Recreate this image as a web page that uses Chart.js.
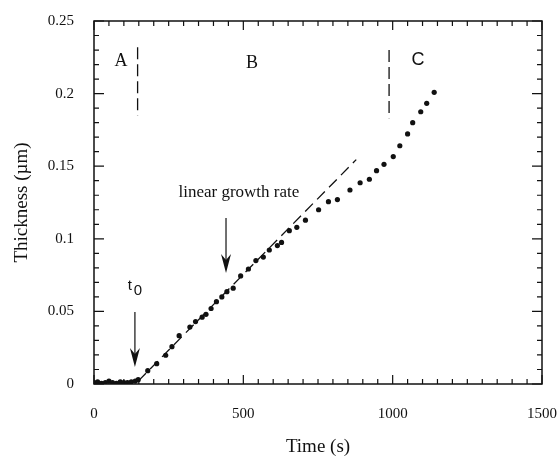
<!DOCTYPE html>
<html lang="en">
<head>
    <meta charset="UTF-8">
    <title>Thickness vs time</title>
    <script src="https://cdn.jsdelivr.net/npm/chart.js"></script>
    <style>
        body { margin: 0; background: #fff; }
        #wrap { width: 559px; height: 459px; }
    </style>
</head>
<body>
    <div id="wrap"><canvas id="growthChart" width="559" height="459"></canvas></div>

    <script>
        // measured film thickness (um) against time (s)
        const timeS = [0, 12, 25, 38, 50, 62, 75, 88, 100, 112, 125, 138,
            148, 180, 210, 240, 261, 285, 321, 340, 362, 375, 392, 410, 428, 445,
            466, 491, 517, 542, 567, 587, 614, 628, 654, 679, 708, 752, 785, 815,
            857, 891, 922, 946, 971, 1002, 1024, 1050, 1067, 1094, 1114, 1139];
        const thicknessUm = [0.001, 0.0015, 0.0005, 0.001, 0.002, 0.001, 0.0005, 0.0015, 0.001, 0.001, 0.0015, 0.002,
            0.003, 0.0092, 0.014, 0.0198, 0.0257, 0.0333, 0.0392, 0.043, 0.046, 0.048, 0.052, 0.0567, 0.06, 0.0636,
            0.066, 0.0744, 0.0792, 0.085, 0.0874, 0.0923, 0.0953, 0.0975, 0.1056, 0.1079, 0.1128, 0.12, 0.1256, 0.127,
            0.1336, 0.1386, 0.141, 0.1469, 0.1513, 0.1566, 0.1641, 0.1722, 0.18, 0.1875, 0.1933, 0.2009];

        // fitted linear growth line (start, end)
        const fitTime = [148, 878];
        const fitThickness = [0.002, 0.1545];

        // boundaries between regimes A / B / C
        const boundaryTimes = [146, 988];
        const boundaryTop = [0.232, 0.230];
        const boundaryBottom = [0.185, 0.183];

        const xTicks = [0, 500, 1000, 1500];
        const yTicks = [0, 0.05, 0.1, 0.15, 0.2, 0.25];

        const serif = '"Liberation Serif", "Times New Roman", serif';
        const sans = '"Liberation Sans", Arial, sans-serif';
        const ink = '#111';

        const toXY = (xs, ys) => xs.map((x, i) => ({ x: x, y: ys[i] }));

        const datasets = [
            {
                label: 'linear fit',
                data: toXY(fitTime, fitThickness),
                showLine: true,
                borderColor: ink,
                borderWidth: 1.3,
                borderDash: [11, 6],
                pointRadius: 0
            }
        ];
        boundaryTimes.forEach((t, i) => {
            datasets.push({
                label: 'boundary ' + i,
                data: [{ x: t, y: boundaryTop[i] }, { x: t, y: boundaryBottom[i] }],
                showLine: true,
                borderColor: ink,
                borderWidth: 1.3,
                borderDash: [12, 5],
                pointRadius: 0
            });
        });
        datasets.push({
            label: 'thickness',
            data: toXY(timeS, thicknessUm),
            pointRadius: 2.6,
            pointBackgroundColor: ink,
            pointBorderWidth: 0,
            showLine: false
        });

        // frame with inward ticks on all four sides
        const framePlugin = {
            id: 'frame',
            afterDraw(chart) {
                const { ctx, chartArea: a, scales } = chart;
                ctx.save();
                ctx.strokeStyle = ink;
                ctx.lineWidth = 1.5;
                ctx.strokeRect(a.left, a.top, a.right - a.left, a.bottom - a.top);
                ctx.lineWidth = 1.2;
                ctx.beginPath();
                for (let t = 0; t <= 1500; t += 50) {
                    const px = scales.x.getPixelForValue(t);
                    const len = t % 500 === 0 ? 9 : 5;
                    ctx.moveTo(px, a.bottom); ctx.lineTo(px, a.bottom - len);
                    ctx.moveTo(px, a.top); ctx.lineTo(px, a.top + len);
                }
                for (let k = 0; k <= 25; k++) {
                    const py = scales.y.getPixelForValue(k / 100);
                    const len = k % 5 === 0 ? 10 : 5;
                    ctx.moveTo(a.left, py); ctx.lineTo(a.left + len, py);
                    ctx.moveTo(a.right, py); ctx.lineTo(a.right - len, py);
                }
                ctx.stroke();
                ctx.restore();
            }
        };

        function arrow(ctx, x, y0, y1) {
            ctx.beginPath();
            ctx.moveTo(x, y0);
            ctx.lineTo(x, y1 - 12);
            ctx.stroke();
            ctx.beginPath();
            ctx.moveTo(x, y1);
            ctx.lineTo(x - 5, y1 - 19);
            ctx.lineTo(x, y1 - 13);
            ctx.lineTo(x + 5, y1 - 19);
            ctx.closePath();
            ctx.fill();
        }

        // region letters, t0 marker and growth-rate note
        const notesPlugin = {
            id: 'notes',
            afterDraw(chart) {
                const { ctx, scales } = chart;
                const X = v => scales.x.getPixelForValue(v);
                const Y = v => scales.y.getPixelForValue(v);
                ctx.save();
                ctx.fillStyle = ink;
                ctx.strokeStyle = ink;
                ctx.textAlign = 'center';
                ctx.textBaseline = 'middle';

                ctx.font = '18px ' + serif;
                ctx.fillText('A', X(90), Y(0.2225));
                ctx.fillText('B', X(529), Y(0.221));
                ctx.font = '18px ' + sans;
                ctx.fillText('C', X(1085), Y(0.2231));

                ctx.font = '17px ' + serif;
                ctx.fillText('linear growth rate', X(485), Y(0.1322));

                ctx.font = '15px ' + sans;
                ctx.fillText('t', X(120), Y(0.0675));
                ctx.fillText('0', X(147), Y(0.064));

                ctx.lineWidth = 1.2;
                arrow(ctx, X(137), Y(0.0496), Y(0.0117));
                arrow(ctx, X(442), Y(0.1143), Y(0.0764));
                ctx.restore();
            }
        };

        const chart = new Chart(document.getElementById('growthChart'), {
            type: 'scatter',
            data: { datasets: datasets },
            options: {
                responsive: false,
                animation: false,
                layout: { padding: { left: 0, top: 21, right: 17, bottom: 0 } },
                plugins: {
                    legend: { display: false },
                    tooltip: { enabled: false }
                },
                scales: {
                    x: {
                        type: 'linear',
                        min: 0,
                        max: 1500,
                        afterBuildTicks: s => { s.ticks = xTicks.map(v => ({ value: v })); },
                        afterFit: s => {
                            s.height = 75;
                            s.paddingLeft = 0;
                            s.paddingRight = 0;
                        },
                        grid: { display: false, drawTicks: false },
                        border: { display: false },
                        ticks: {
                            padding: 21,
                            color: ink,
                            font: { family: serif, size: 15 },
                            maxRotation: 0,
                            callback: v => String(v)
                        },
                        title: {
                            display: true,
                            text: 'Time (s)',
                            color: ink,
                            font: { family: serif, size: 19 },
                            padding: { top: 4, bottom: 1 }
                        }
                    },
                    y: {
                        type: 'linear',
                        min: 0,
                        max: 0.25,
                        afterBuildTicks: s => { s.ticks = yTicks.map(v => ({ value: v })); },
                        afterFit: s => {
                            s.width = 94;
                            s.paddingTop = 0;
                            s.paddingBottom = 0;
                        },
                        grid: { display: false, drawTicks: false },
                        border: { display: false },
                        ticks: {
                            padding: 20,
                            color: ink,
                            font: { family: serif, size: 15 },
                            callback: v => String(+v.toFixed(2))
                        },
                        title: {
                            display: true,
                            text: 'Thickness (\u00b5m)',
                            color: ink,
                            font: { family: serif, size: 19 },
                            padding: { top: 11, bottom: 0 }
                        }
                    }
                }
            },
            plugins: [framePlugin, notesPlugin]
        });
    </script>
</body>
</html>
